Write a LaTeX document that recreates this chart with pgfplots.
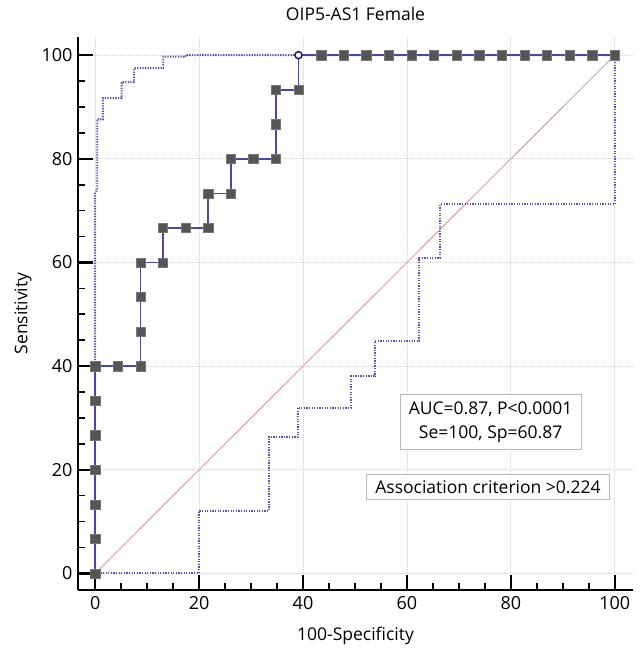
\documentclass[border=0pt]{standalone}
\usepackage{fontspec}
\setmainfont{Open Sans}
\usepackage{pgfplots}
\pgfplotsset{compat=1.18}
\definecolor{rocblue}{RGB}{72,72,170}
\definecolor{bandblue}{RGB}{85,85,185}
\definecolor{markgray}{RGB}{85,85,85}
\definecolor{diagred}{RGB}{215,140,140}
\definecolor{circblue}{RGB}{30,30,120}
\begin{document}
\begin{tikzpicture}
\useasboundingbox (0,0) rectangle (640pt,653pt);
\begin{axis}[
  at={(78pt,63pt)}, anchor=south west,
  scale only axis, width=555pt, height=553pt,
  xmin=-3.3, xmax=103.5, ymin=-3.2, ymax=103.5,
  axis x line=bottom, axis y line=left,
  axis line style={line width=2.6pt, -},
  xtick={0,20,...,100}, ytick={0,20,...,100},
  minor tick num=3,
  tick align=inside,
  major tick length=15pt, minor tick length=7pt,
  major tick style={line width=2.2pt, black},
  minor tick style={line width=1.6pt, black},
  grid=major,
  major grid style={draw=gray!35, dash pattern=on 1pt off 1pt, line width=0.8pt},
  /pgf/number format/assume math mode=true,
  ticklabel style={font=\fontsize{18}{20}\selectfont},
  xticklabel style={yshift=-3pt},
  yticklabel style={xshift=-2pt},
  title={OIP5-AS1 Female},
  title style={at={(axis description cs:0.5,1.031)}, anchor=center, font=\fontsize{17.5}{20}\selectfont},
  xlabel={100-Specificity},
  xlabel style={at={(axis description cs:0.5,-0.0832)}, anchor=center, font=\fontsize{17.5}{20}\selectfont},
  ylabel={Sensitivity},
  ylabel style={at={(axis description cs:-0.099,0.5)}, anchor=center, font=\fontsize{17.5}{20}\selectfont},
  clip=false,
]
% diagonal
\addplot[diagred, line width=0.8pt] coordinates {(0,0) (100,100)};
% upper confidence band
\addplot[bandblue, line width=1.9pt, dash pattern=on 1.3pt off 1.3pt] coordinates {
(0,0) (0,73.5) (0.4,74) (0.4,87.6) (1.5,87.6) (1.5,91.7) (5.1,91.7) (5.1,94.8)
(7.5,94.8) (7.5,97.5) (13.1,97.5) (13.1,99.7) (17.4,99.7) (17.4,100) (100,100)};
% lower confidence band
\addplot[bandblue, line width=1.9pt, dash pattern=on 1.3pt off 1.3pt] coordinates {
(0,0) (19.9,0) (19.9,12) (33.4,12) (33.4,26.3) (39,26.3) (39,32) (49.3,32)
(49.3,38.1) (53.8,38.1) (53.8,44.8) (62.4,44.8) (62.4,60.9) (66.4,60.9)
(66.4,71.2) (100,71.2) (100,100)};
% ROC curve line
\addplot[rocblue, line width=1.7pt] coordinates {
(0,0) (0,40) (8.70,40) (8.70,60) (13.04,60) (13.04,66.67) (21.74,66.67)
(21.74,73.33) (26.09,73.33) (26.09,80) (34.78,80) (34.78,93.33) (39.13,93.33)
(39.13,100) (100,100)};
% ROC markers
\addplot[only marks, mark=square*, mark size=4.6pt, mark options={fill=markgray, draw=markgray!80}] coordinates {
(0,0) (0,6.67) (0,13.33) (0,20) (0,26.67) (0,33.33) (0,40)
(4.35,40) (8.70,40) (8.70,46.67) (8.70,53.33) (8.70,60)
(13.04,60) (13.04,66.67) (17.39,66.67) (21.74,66.67) (21.74,73.33)
(26.09,73.33) (26.09,80) (30.43,80) (34.78,80) (34.78,86.67) (34.78,93.33)
(39.13,93.33)
(43.48,100) (47.83,100) (52.17,100) (56.52,100) (60.87,100) (65.22,100)
(69.57,100) (73.91,100) (78.26,100) (82.61,100) (86.96,100) (91.30,100)
(95.65,100) (100,100)};
% criterion point
\addplot[only marks, mark=*, mark size=3.6pt, mark options={fill=white, draw=circblue, line width=1.5pt}] coordinates {(39.13,100)};
% text boxes
\node[draw=gray!55, fill=white, line width=0.6pt, align=center, inner xsep=9pt, inner ysep=7pt,
      font=\fontsize{17.5}{24}\selectfont] at (axis cs:76.1,29.2) {AUC=0.87, P<0.0001\\Se=100, Sp=60.87};
\node[draw=gray!55, fill=white, line width=0.6pt, inner xsep=9pt, inner ysep=6pt,
      font=\fontsize{17.5}{20}\selectfont] at (axis cs:75.6,16.7) {Association criterion >0.224};
\end{axis}
\end{tikzpicture}
\end{document}
